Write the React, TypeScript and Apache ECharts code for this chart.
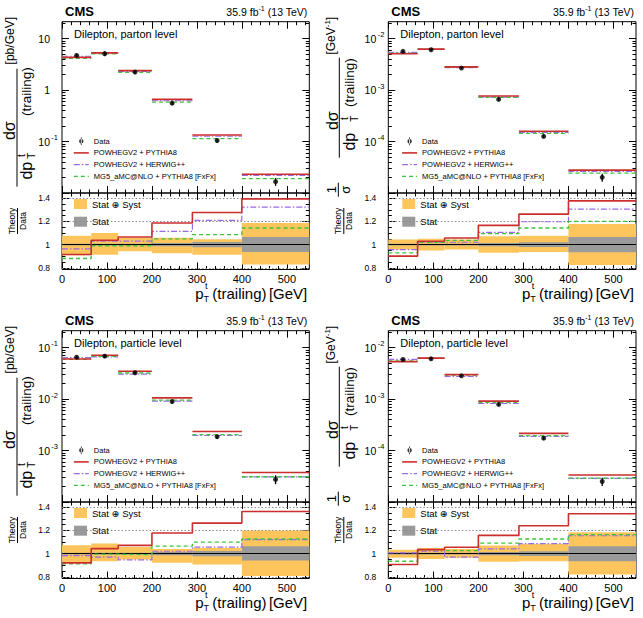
import { useEffect, useRef } from 'react';
import * as echarts from 'echarts';

const FONT = '"Liberation Sans", Arial, Helvetica, "DejaVu Sans", sans-serif';

// pT(t, trailing) binning [GeV]
const binEdges = [0, 65, 125, 200, 290, 400, 550];
const xTickLabels = [0, 100, 200, 300, 400, 500];
const ratioTickLabels = [0.8, 1, 1.2, 1.4];

// Parton level, dσ/dpT [pb/GeV]; theory curves are stored as theory / data
const partonAbsData = [4.73, 5.1, 2.24, 0.558, 0.105, 0.0166];
const partonAbsPowhegPythia = [0.914, 1.037, 1.066, 1.186, 1.277, 1.394];
const partonAbsPowhegHerwig = [0.963, 1.03, 1.03, 1.114, 1.209, 1.323];
const partonAbsMadgraph = [0.88, 0.99, 0.99, 1.05, 1.086, 1.143];
const partonAbsTotUp = [1.077, 1.1, 1.06, 1.06, 1.045, 1.186];
const partonAbsTotDown = [0.909, 0.912, 0.943, 0.925, 0.912, 0.829];
const partonAbsStatUp = [1.008, 1.008, 1.008, 1.014, 1.022, 1.066];
const partonAbsStatDown = [0.992, 0.992, 0.992, 0.986, 0.978, 0.937];

// Parton level, 1/σ dσ/dpT [GeV^-1]
const partonNormData = [5.66e-3, 6.1e-3, 2.68e-3, 6.6e-4, 1.26e-4, 2.02e-5];
const partonNormPowhegPythia = [0.9, 1.029, 1.057, 1.166, 1.263, 1.377];
const partonNormPowhegHerwig = [0.957, 1.02, 1.02, 1.106, 1.197, 1.306];
const partonNormMadgraph = [0.929, 1.02, 1.037, 1.095, 1.143, 1.2];
const partonNormTotUp = [1.043, 1.051, 1.043, 1.071, 1.077, 1.177];
const partonNormTotDown = [0.957, 0.949, 0.957, 0.929, 0.937, 0.823];
const partonNormStatUp = [1.008, 1.008, 1.008, 1.014, 1.02, 1.066];
const partonNormStatDown = [0.992, 0.992, 0.992, 0.986, 0.98, 0.934];

// Particle level, dσ/dpT [pb/GeV]
const particleAbsData = [0.0653, 0.0684, 0.0325, 0.009, 1.86e-3, 2.75e-4];
const particleAbsPowhegPythia = [0.92, 1.043, 1.071, 1.177, 1.263, 1.363];
const particleAbsPowhegHerwig = [0.983, 0.97, 0.945, 1.02, 1.055, 1.12];
const particleAbsMadgraph = [0.912, 0.995, 0.99, 1.065, 1.098, 1.126];
const particleAbsTotUp = [1.071, 1.086, 1.057, 1.04, 1.049, 1.2];
const particleAbsTotDown = [0.92, 0.934, 0.949, 0.92, 0.906, 0.806];
const particleAbsStatUp = [1.008, 1.008, 1.008, 1.014, 1.022, 1.063];
const particleAbsStatDown = [0.992, 0.992, 0.992, 0.986, 0.978, 0.94];

// Particle level, 1/σ dσ/dpT [GeV^-1]
const particleNormData = [5.9e-3, 6.07e-3, 2.84e-3, 7.9e-4, 1.74e-4, 2.5e-5];
const particleNormPowhegPythia = [0.906, 1.034, 1.054, 1.157, 1.24, 1.343];
const particleNormPowhegHerwig = [1.006, 1.02, 0.969, 1.04, 1.086, 1.154];
const particleNormMadgraph = [0.934, 1.034, 1.026, 1.091, 1.126, 1.163];
const particleNormTotUp = [1.034, 1.049, 1.04, 1.069, 1.083, 1.183];
const particleNormTotDown = [0.963, 0.954, 0.963, 0.929, 0.934, 0.82];
const particleNormStatUp = [1.008, 1.008, 1.008, 1.014, 1.02, 1.063];
const particleNormStatDown = [0.992, 0.992, 0.992, 0.986, 0.98, 0.934];

const theoryNames = ['POWHEGV2 + PYTHIA8', 'POWHEGV2 + HERWIG++', 'MG5_aMC@NLO + PYTHIA8 [FxFx]'];
const theoryColors = ['#cc2e2e', '#9a6ae6', '#3cc43c'];
const theoryDash: any[] = ['solid', [6, 2, 1.5, 2], [4, 3]];
const theoryWidth = [1.6, 1.2, 1.3];
const TOTAL_COLOR = '#fdc55c';
const STAT_COLOR = '#9a9a9a';

const panels = [
  {
    level: 'Dilepton, parton level', norm: false, data: partonAbsData,
    theory: [partonAbsPowhegPythia, partonAbsPowhegHerwig, partonAbsMadgraph],
    totUp: partonAbsTotUp, totDown: partonAbsTotDown, statUp: partonAbsStatUp, statDown: partonAbsStatDown,
    logMin: -2, logMax: 1.33, decadeLabels: [-1, 0, 1],
  },
  {
    level: 'Dilepton, parton level', norm: true, data: partonNormData,
    theory: [partonNormPowhegPythia, partonNormPowhegHerwig, partonNormMadgraph],
    totUp: partonNormTotUp, totDown: partonNormTotDown, statUp: partonNormStatUp, statDown: partonNormStatDown,
    logMin: -5, logMax: -1.67, decadeLabels: [-4, -3, -2],
  },
  {
    level: 'Dilepton, particle level', norm: false, data: particleAbsData,
    theory: [particleAbsPowhegPythia, particleAbsPowhegHerwig, particleAbsMadgraph],
    totUp: particleAbsTotUp, totDown: particleAbsTotDown, statUp: particleAbsStatUp, statDown: particleAbsStatDown,
    logMin: -4, logMax: -0.67, decadeLabels: [-3, -2, -1],
  },
  {
    level: 'Dilepton, particle level', norm: true, data: particleNormData,
    theory: [particleNormPowhegPythia, particleNormPowhegHerwig, particleNormMadgraph],
    totUp: particleNormTotUp, totDown: particleNormTotDown, statUp: particleNormStatUp, statDown: particleNormStatDown,
    logMin: -5, logMax: -1.67, decadeLabels: [-4, -3, -2],
  },
];

// page layout (px)
const COL_LEFT = [62, 388.3];
const COL_RIGHT = [309.3, 636];
const ROW_TOP = [21.7, 330.7];
const UPPER_H = 171.3;
const LOWER_H = 76.5;
const RATIO_MIN = 0.785;
const RATIO_MAX = 1.445;

const DATA_ICON =
  'path://M0,3.99h0.01v0.01h-0.01z M14.99,3.99h0.01v0.01h-0.01z M7.1,0h0.8v8h-0.8z M5.3,4a2.2,2.2 0 1 0 4.4,0a2.2,2.2 0 1 0 -4.4,0z';

const tickLine = { color: '#000', width: 1 };

function xMinorTicks() {
  const v: number[] = [];
  for (let x = 20; x < 550; x += 20) if (x % 100 !== 0) v.push(x);
  return v;
}

function makeXAxes(gridIndex: number, withLabels: boolean) {
  const base: any = {
    type: 'value', gridIndex, min: 0, max: 550,
    splitLine: { show: false }, axisLine: { show: false, onZero: false }, axisLabel: { show: false },
  };
  const major = { show: true, inside: true, length: 7, customValues: xTickLabels, lineStyle: tickLine };
  const minor = { show: true, inside: true, length: 3.5, customValues: xMinorTicks(), lineStyle: tickLine };
  const label = withLabels
    ? { show: true, customValues: xTickLabels, margin: 4, fontSize: 11, fontFamily: FONT, color: '#000', formatter: (v: number) => String(v) }
    : { show: false };
  return [
    { ...base, position: 'bottom', axisTick: major, axisLabel: label },
    { ...base, position: 'bottom', axisTick: minor },
    { ...base, position: 'top', axisTick: major },
    { ...base, position: 'top', axisTick: minor },
  ];
}

function makeYAxes(gridIndex: number, min: number, max: number, majors: number[], minors: number[], label: any) {
  const base: any = {
    type: 'value', gridIndex, min, max,
    splitLine: { show: false }, axisLine: { show: false, onZero: false }, axisLabel: { show: false },
  };
  const major = { show: true, inside: true, length: 7, customValues: majors, lineStyle: tickLine };
  const minor = { show: true, inside: true, length: 3.5, customValues: minors, lineStyle: tickLine };
  return [
    { ...base, position: 'left', axisTick: major, axisLabel: label },
    { ...base, position: 'left', axisTick: minor },
    { ...base, position: 'right', axisTick: major },
    { ...base, position: 'right', axisTick: minor },
  ];
}

function txt(x: number, y: number, text: string, size: number, extra: any = {}, rotate = false) {
  return {
    type: 'text', x, y, rotation: rotate ? Math.PI / 2 : 0, silent: true,
    style: { text, fontSize: size, fontFamily: FONT, fill: '#000', align: 'center', verticalAlign: 'middle', ...extra },
  };
}

function vline(x: number, y1: number, y2: number) {
  return { type: 'line', silent: true, shape: { x1: x, y1, x2: x, y2 }, style: { stroke: '#000', lineWidth: 1 } };
}

function hline(x1: number, x2: number, y: number) {
  return { type: 'line', silent: true, shape: { x1, y1: y, x2, y2: y }, style: { stroke: '#000', lineWidth: 1 } };
}

function buildOption() {
  const grid: any[] = [];
  const xAxis: any[] = [];
  const yAxis: any[] = [];
  const series: any[] = [];
  const legend: any[] = [];
  const graphic: any[] = [];
  const centers = binEdges.slice(0, -1).map((e, i) => (e + binEdges[i + 1]) / 2);

  const ratioMinor: number[] = [];
  for (let k = 17; k <= 28; k++) {
    const v = +(k * 0.05).toFixed(2);
    if (v > RATIO_MIN && v < RATIO_MAX && Math.abs(v * 5 - Math.round(v * 5)) > 1e-6) ratioMinor.push(v);
  }

  panels.forEach((pn, p) => {
    const col = p % 2;
    const row = Math.floor(p / 2);
    const L = COL_LEFT[col];
    const R = COL_RIGHT[col];
    const T = ROW_TOP[row];
    const W = R - L;
    const S = T + UPPER_H;

    const gu = grid.length;
    grid.push({ left: L, top: T, width: W, height: UPPER_H, show: true, borderColor: '#000', borderWidth: 1, backgroundColor: 'rgba(0,0,0,0)' });
    const gl = grid.length;
    grid.push({ left: L, top: S, width: W, height: LOWER_H, show: true, borderColor: '#000', borderWidth: 1, backgroundColor: 'rgba(0,0,0,0)' });

    const xu = xAxis.length;
    xAxis.push(...makeXAxes(gu, false));
    const xl = xAxis.length;
    xAxis.push(...makeXAxes(gl, true));

    // log10 scale for the cross section
    const majors: number[] = [];
    const minors: number[] = [];
    for (let n = Math.floor(pn.logMin); n <= Math.ceil(pn.logMax); n++) {
      if (n >= pn.logMin && n <= pn.logMax) majors.push(n);
      for (let k = 2; k <= 9; k++) {
        const v = n + Math.log10(k);
        if (v > pn.logMin && v < pn.logMax) minors.push(v);
      }
    }
    const yu = yAxis.length;
    yAxis.push(
      ...makeYAxes(gu, pn.logMin, pn.logMax, majors, minors, {
        show: true, customValues: pn.decadeLabels, margin: 4, color: '#000', fontFamily: FONT, fontSize: 10.5,
        formatter: (v: number) => {
          const n = Math.round(v);
          if (n === 0) return '{b|1}{e| }';
          if (n === 1) return '{b|10}{e| }';
          return `{b|10}{e|${n}}`;
        },
        rich: {
          b: { fontSize: 10.5, fontFamily: FONT, color: '#000', lineHeight: 16 },
          e: { fontSize: 7.5, fontFamily: FONT, color: '#000', verticalAlign: 'top', width: 8 },
        },
      }),
    );
    const yl = yAxis.length;
    yAxis.push(
      ...makeYAxes(gl, RATIO_MIN, RATIO_MAX, ratioTickLabels, ratioMinor, {
        show: true, customValues: ratioTickLabels, margin: 12, color: '#000', fontFamily: FONT, fontSize: 8.5,
        formatter: (v: number) => (Math.abs(v - 1) < 1e-6 ? '1' : v.toFixed(1)),
      }),
    );

    // ---- upper pad: theory predictions (per-bin segments) ----
    pn.theory.forEach((ratio, k) => {
      const seg: any[] = [];
      ratio.forEach((r, i) => {
        const y = Math.log10(pn.data[i] * r);
        seg.push([binEdges[i], y], [binEdges[i + 1], y], [binEdges[i + 1], '-']);
      });
      series.push({
        type: 'line', name: theoryNames[k], xAxisIndex: xu, yAxisIndex: yu, data: seg,
        symbol: 'none', showSymbol: false, connectNulls: false, silent: true, z: k === 0 ? 6 : 5,
        lineStyle: { color: theoryColors[k], width: theoryWidth[k], type: theoryDash[k] },
        itemStyle: { color: theoryColors[k] },
      });
    });

    // data with total uncertainty
    series.push({
      type: 'custom', name: 'dataUnc', xAxisIndex: xu, yAxisIndex: yu, silent: true, z: 7,
      data: pn.data.map((d, i) => [centers[i], Math.log10(d * pn.totDown[i]), Math.log10(d * pn.totUp[i])]),
      encode: { x: 0, y: [1, 2] },
      renderItem: (_params: any, api: any) => {
        const a = api.coord([api.value(0), api.value(1)]);
        const b = api.coord([api.value(0), api.value(2)]);
        return { type: 'line', shape: { x1: a[0], y1: a[1], x2: b[0], y2: b[1] }, style: { stroke: '#000', lineWidth: 1.3 } };
      },
    });
    series.push({
      type: 'scatter', name: 'Data', xAxisIndex: xu, yAxisIndex: yu, silent: true, z: 8,
      symbol: 'circle', symbolSize: 5, itemStyle: { color: '#000' },
      data: pn.data.map((d, i) => [centers[i], Math.log10(d)]),
    });

    // ---- lower pad: uncertainty bands ----
    const band = (name: string, color: string, dn: number[], up: number[], z: number) => ({
      type: 'custom', name, xAxisIndex: xl, yAxisIndex: yl, silent: true, z, clip: true,
      itemStyle: { color },
      data: dn.map((v, i) => [binEdges[i], binEdges[i + 1], v, up[i]]),
      encode: { x: [0, 1], y: [2, 3] },
      renderItem: (_params: any, api: any) => {
        const a = api.coord([api.value(0), api.value(3)]);
        const b = api.coord([api.value(1), api.value(2)]);
        return { type: 'rect', shape: { x: a[0], y: a[1], width: b[0] - a[0], height: b[1] - a[1] }, style: { fill: color } };
      },
    });
    series.push(band('Stat \u2295 Syst', TOTAL_COLOR, pn.totDown, pn.totUp, 1));
    series.push(band('Stat', STAT_COLOR, pn.statDown, pn.statUp, 2));

    // reference lines
    const dotted = { type: [1.5, 2], color: '#8c8c8c', width: 1 };
    series.push({
      type: 'line', name: 'ref', xAxisIndex: xl, yAxisIndex: yl, data: [], silent: true, z: 3,
      markLine: {
        silent: true, symbol: ['none', 'none'], label: { show: false }, animation: false,
        data: [
          { yAxis: 0.8, lineStyle: dotted },
          { yAxis: 1.2, lineStyle: dotted },
          { yAxis: 1.4, lineStyle: dotted },
          { yAxis: 1, lineStyle: { type: 'solid', color: '#000', width: 1.2 } },
        ],
      },
    });

    pn.theory.forEach((ratio, k) => {
      const pts: any[] = ratio.map((r, i) => [binEdges[i], r]);
      pts.push([binEdges[binEdges.length - 1], ratio[ratio.length - 1]]);
      series.push({
        type: 'line', name: theoryNames[k], xAxisIndex: xl, yAxisIndex: yl, data: pts, step: 'end',
        symbol: 'none', showSymbol: false, silent: true, z: k === 0 ? 6 : 5,
        lineStyle: { color: theoryColors[k], width: theoryWidth[k], type: theoryDash[k] },
        itemStyle: { color: theoryColors[k] },
      });
    });

    // ---- legends ----
    const dx = col === 0 ? 11 : 13;
    legend.push({
      orient: 'vertical', left: L + dx, top: T + 115.5, padding: 0, itemGap: 3.7,
      itemWidth: 15, itemHeight: 8, selectedMode: false,
      textStyle: { fontSize: 7.5, fontFamily: FONT, color: '#000', lineHeight: 8 },
      lineStyle: { width: 'inherit' },
      data: [
        { name: 'Data', icon: DATA_ICON },
        ...theoryNames.map((n) => ({ name: n, itemStyle: { opacity: 0 } })),
      ],
    });
    legend.push({
      orient: 'vertical', left: L + (col === 0 ? 12 : 14), top: S + 6, padding: 0, itemGap: 7.7,
      itemWidth: 13, itemHeight: 10, selectedMode: false,
      textStyle: { fontSize: 9.5, fontFamily: FONT, color: '#000', lineHeight: 10 },
      data: [
        { name: 'Stat \u2295 Syst', icon: 'rect' },
        { name: 'Stat', icon: 'rect' },
      ],
    });

    // ---- header texts ----
    graphic.push(txt(L + 3, T - 10, 'CMS', 13, { align: 'left', fontWeight: 'bold' }));
    graphic.push(
      txt(R - 2, T - 9.5, '{a|35.9 fb}{s|-1}{a| (13 TeV)}', 10.5, {
        align: 'right',
        rich: {
          a: { fontSize: 10.5, fontFamily: FONT, fill: '#000', lineHeight: 14 },
          s: { fontSize: 7, fontFamily: FONT, fill: '#000', verticalAlign: 'top' },
        },
      }),
    );
    graphic.push(txt(L + 12, T + 12.5, pn.level, 11, { align: 'left' }));

    // ---- y title of the upper pad ----
    if (!pn.norm) {
      graphic.push(txt(L - 53, T + 109, 'd\u03c3', 16, {}, true));
      graphic.push(vline(L - 45, T + 47, T + 165));
      graphic.push(txt(L - 36, T + 149, 'dp', 16, {}, true));
      graphic.push(txt(L - 41, T + 134, 't', 10, {}, true));
      graphic.push(txt(L - 31, T + 134, 'T', 10, {}, true));
      graphic.push(txt(L - 36, T + 70, '(trailing)', 13.5, {}, true));
      graphic.push(txt(L - 52, T + 19, '[pb/GeV]', 12, {}, true));
    } else {
      graphic.push(txt(L - 57, T + 168, '1', 13, {}, true));
      graphic.push(vline(L - 50, T + 161, T + 175));
      graphic.push(txt(L - 43, T + 168, '\u03c3', 13, {}, true));
      graphic.push(txt(L - 56, T + 99, 'd\u03c3', 16, {}, true));
      graphic.push(vline(L - 49, T + 36, T + 136));
      graphic.push(txt(L - 39, T + 120, 'dp', 16, {}, true));
      graphic.push(txt(L - 44, T + 97, 't', 10, {}, true));
      graphic.push(txt(L - 34, T + 97, 'T', 10, {}, true));
      graphic.push(txt(L - 39, T + 61, '(trailing)', 13.5, {}, true));
      graphic.push(
        txt(L - 57, T + 14, '{a|[GeV}{s|-1}{a|]}', 12, {
          rich: {
            a: { fontSize: 12, fontFamily: FONT, fill: '#000', lineHeight: 16 },
            s: { fontSize: 8, fontFamily: FONT, fill: '#000', verticalAlign: 'top' },
          },
        }, true),
      );
    }

    // ---- y title of the ratio pad ----
    graphic.push(txt(L - 50, S + 28, 'Theory', 8.5, {}, true));
    graphic.push(vline(L - 44.5, S + 15, S + 41));
    graphic.push(txt(L - 39, S + 28, 'Data', 8.5, {}, true));

    // ---- x title ----
    const ym = S + LOWER_H + 23.5;
    graphic.push(txt(R - 114, ym, 'p', 15, { align: 'left' }));
    graphic.push(txt(R - 103, ym - 7, 't', 9));
    graphic.push(txt(R - 103, ym + 6, 'T', 9));
    graphic.push(txt(R - 97, ym, '(trailing)', 15, { align: 'left' }));
    graphic.push(txt(R - 2, ym, '[GeV]', 15, { align: 'right' }));
  });

  // unused helper kept for symmetry of line drawing
  void hline;

  return {
    animation: false,
    backgroundColor: '#fff',
    textStyle: { fontFamily: FONT },
    grid, xAxis, yAxis, series, legend, graphic,
  };
}

export default function App() {
  const ref = useRef<HTMLDivElement>(null);
  useEffect(() => {
    if (!ref.current) return;
    const chart = echarts.init(ref.current, null, { renderer: 'svg' });
    chart.setOption(buildOption() as any);
    return () => chart.dispose();
  }, []);
  return (
    <div
      ref={ref}
      style={{ position: 'fixed', left: 0, top: 0, width: 643, height: 618, background: '#fff' }}
    />
  );
}
